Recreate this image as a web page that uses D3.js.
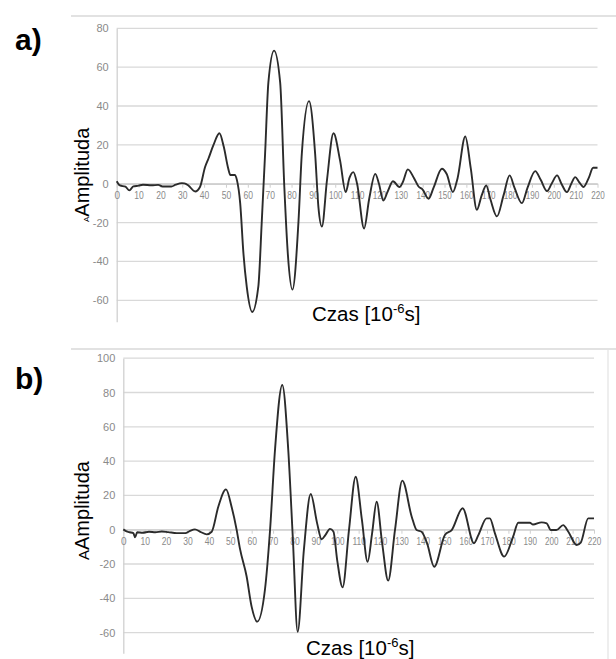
<!DOCTYPE html>
<html lang="pl">

<head>
    <meta charset="utf-8">
    <script src='https://d3js.org/d3.v7.min.js'></script>
    <style>
        body { margin: 0; background: #fff; }
        text { font-family: "Liberation Sans", Arial, sans-serif; }
    </style>
</head>

<body>
</body>

<script>

    // wave a) - time [us] and amplitude
    const timeA = [0, 1.5, 4, 5.8, 7.6, 10, 12, 16, 19, 21, 25, 27, 29.8, 31, 32.8, 35.9, 38.1, 40.4, 42, 44.2,
        47, 49, 51, 52, 54, 55, 56.5, 58, 59.5, 62, 64.8, 66.4, 67.9, 69.4, 72, 74.8, 76.7, 78.3, 80.4, 83.2,
        84.7, 88, 90.8, 92.3, 93.9, 96.2, 99.2, 102.2, 104.8, 106.5, 108.3, 110, 113.2, 115.5, 118.3, 120, 122, 124, 126.4, 129.4,
        131, 133.2, 136, 138.1, 140, 142.7, 145, 148.8, 151, 153.8, 156, 159.5, 162, 164.8, 167, 169.1, 171, 174, 177, 179.8,
        182, 185.4, 188, 191.5, 194, 196.9, 199, 201.5, 203.5, 206, 208, 209.8, 211.5, 213.6, 216, 218, 220];
    const ampA = [1.3, -0.9, -1.5, -3.4, -1.4, -1, -0.5, -0.8, -0.6, -1.4, -1.4, -0.5, 0.3, 0.2, -0.9, -4, -1.7, 8.5, 13, 19.7,
        26, 19, 8, 4.5, 4.5, 2, -10, -36, -53, -66, -53, -19, 15.4, 52, 68.5, 52, -1.7, -36, -54.5, -19,
        15.4, 42.5, 15.4, -12, -22, 1.7, 26, 12, -4.3, 3, 6, 0, -23, -8, 5.1, 0, -8.6, -4, 1.3, -1.7,
        1, 7.4, 3, -1.4, -3, -7.7, -2, 7.7, 5, -4.3, 3, 24.3, 8, -13.4, -6, -0.9, -8, -16.8, -6, 4.3,
        -2, -10, -2, 6.5, 2, -3.8, 0, 4.3, 0, -4.3, 0, 3.4, 1, -1.7, 3, 8.2, 8.2];

    // wave b)
    const timeB = [0, 1.5, 3, 4.7, 5.5, 6.5, 9, 12, 15, 18, 21, 25, 29, 31, 33.5, 36, 39, 41.3, 44.4, 48,
        50.6, 53, 54.5, 57.6, 60, 62.6, 66.2, 68.6, 70.9, 74.3, 77.1, 79.2, 81.5, 84.4, 87.6, 90.6, 92.7, 94.5, 96.6, 98.2,
        100, 102.5, 105.5, 108.6, 111.5, 114.2, 116.3, 118.4, 121, 123.8, 127, 130.4, 134.8, 137.1, 139.4, 142, 145.3, 150.3, 153.5, 158.6,
        163.9, 166, 169.8, 171.3, 173.7, 178, 182.2, 184.6, 190, 191.5, 195.5, 197.9, 199.8, 202.4, 205.6, 208, 211.9, 213.8, 217.3, 220];
    const ampB = [0.2, -1, -1.5, -2, -4.4, -1.5, -1.8, -1.2, -1.5, -1, -1.4, -2, -2, -0.8, 0.2, -1.2, -2.7, -1.2, 13.4, 23.5,
        13.4, -0.2, -10.9, -27, -45, -53.6, -35, 0, 46.5, 84.4, 46.5, -4, -59.5, -11.8, 20.8, 3.7, -5.6, -3, 0.5, -1,
        -18, -33.6, 0, 30.9, 6, -18.7, -2, 16.3, -8, -29.7, 0, 28.6, 7.6, -0.2, -1.2, -8, -21.6, -3.1, -0.2, 12.5,
        -7.9, -3, 6.6, 6.6, -2.1, -15.7, -4, 4.1, 4.1, 3, 4.3, 3.7, -0.2, -0.2, 2.7, -1.2, -8.9, -7.5, 6.6, 6.6];

    const xTicks = d3.range(0, 221, 10);
    const yTicksA = [-60, -40, -20, 0, 20, 40, 60, 80];
    const yTicksB = [-60, -40, -20, 0, 20, 40, 60, 80, 100];

    const svg = d3.select("body")
                    .append("svg")
                    .attr("width", 616)
                    .attr("height", 659);

    // plain hyphen minus like the original (d3 uses U+2212)
    const fmt = d => String(d);

    function drawPanel(p) {
        const g = svg.append("g");

        // frame lines around the pasted chart
        g.append("line")
            .attr("x1", 71).attr("x2", 616)
            .attr("y1", p.frameTop).attr("y2", p.frameTop)
            .attr("stroke", "#d9d9d9").attr("stroke-width", 1.5);
        if (p.frameRight) {
            g.append("line")
                .attr("x1", p.frameRight).attr("x2", p.frameRight)
                .attr("y1", p.frameTop).attr("y2", 659)
                .attr("stroke", "#e3e3e3").attr("stroke-width", 1.2);
        }

        const x = d3.scaleLinear().domain([0, 220]).range(p.xRange);
        const y = d3.scaleLinear().domain(p.yDomain).range(p.yRange);

        // horizontal gridlines
        g.append("g")
            .selectAll("line")
            .data(p.yTicks)
            .enter()
            .append("line")
            .attr("x1", p.xRange[0]).attr("x2", p.xRange[1])
            .attr("y1", d => y(d)).attr("y2", d => y(d))
            .attr("stroke", "#d9d9d9").attr("stroke-width", 1.3);

        // y axis
        const yAxis = g.append("g")
            .attr("transform", "translate(" + p.xRange[0] + ",0)")
            .call(d3.axisLeft(y).tickValues(p.yTicks).tickFormat(fmt).tickSize(0).tickPadding(8));
        yAxis.select(".domain").attr("stroke", "#d0d0d0").attr("stroke-width", 1.3);
        yAxis.selectAll("text")
            .attr("fill", "#8a8a8a")
            .style("font-size", "11px");

        // x axis crossing at zero
        const xAxis = g.append("g")
            .attr("transform", "translate(0," + y(0) + ")")
            .call(d3.axisBottom(x).tickValues(xTicks).tickFormat(fmt).tickSize(4).tickPadding(4).tickSizeOuter(0));
        xAxis.select(".domain").attr("stroke", "#cfcfcf").attr("stroke-width", 1.3);
        xAxis.selectAll(".tick line").attr("stroke", "#cfcfcf");
        xAxis.selectAll("text")
            .attr("fill", "#8a8a8a")
            .style("font-size", "10px")
            .attr("textLength", d => d >= 100 ? 13.5 : (d > 0 ? 9.5 : null))
            .attr("lengthAdjust", "spacingAndGlyphs");

        // the waveform
        const line = d3.line()
            .x(d => x(d[0]))
            .y(d => y(d[1]))
            .curve(d3.curveMonotoneX);

        g.append("path")
            .datum(d3.zip(p.time, p.amp))
            .attr("d", line)
            .attr("fill", "none")
            .attr("stroke", "#2b2b2b")
            .attr("stroke-width", 1.9)
            .attr("stroke-linejoin", "round");

        // panel letter
        g.append("text")
            .attr("x", 15).attr("y", p.letterY)
            .style("font-size", "30px")
            .style("font-weight", "bold")
            .text(p.letter);

        // axis titles
        const yt = g.append("text")
            .attr("transform", "translate(" + p.yTitleX + "," + p.yTitleY + ") rotate(-90)")
            .style("font-size", "20px");
        yt.append("tspan").style("font-size", p.strayA + "px").text("A");
        yt.append("tspan").text("Amplituda");

        const xt = g.append("text")
            .attr("x", p.xTitleX).attr("y", p.xTitleY)
            .style("font-size", "20.5px");
        xt.append("tspan").text("Czas [10");
        xt.append("tspan").attr("dy", -8).style("font-size", "13px").text("-6");
        xt.append("tspan").attr("dy", 8).text("s]");
    }

    drawPanel({
        letter: "a)", letterY: 50,
        time: timeA, amp: ampA, yTicks: yTicksA,
        frameTop: 16,
        xRange: [116.7, 597.5],
        yDomain: [-71, 80], yRange: [321.7, 28.3],
        yTitleX: 89, yTitleY: 222, strayA: 8,
        xTitleX: 312, xTitleY: 321
    });

    drawPanel({
        letter: "b)", letterY: 389,
        time: timeB, amp: ampB, yTicks: yTicksB,
        frameTop: 349, frameRight: 608,
        xRange: [123.3, 594],
        yDomain: [-72, 100], yRange: [653.2, 358.2],
        yTitleX: 89, yTitleY: 560, strayA: 15,
        xTitleX: 306, xTitleY: 655
    });

</script>

</html>
